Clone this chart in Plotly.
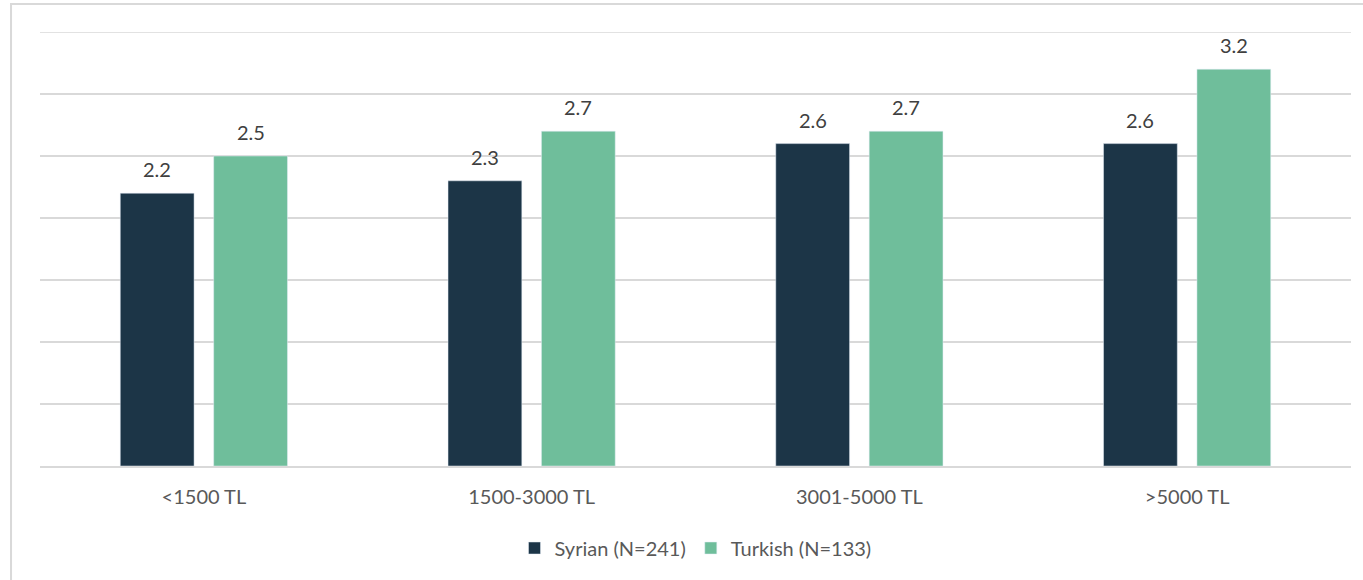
import plotly.graph_objects as go

categories = ["<1500 TL", "1500-3000 TL", "3001-5000 TL", ">5000 TL"]
syrian = [2.2, 2.3, 2.6, 2.6]
turkish = [2.5, 2.7, 2.7, 3.2]
series_names = ["Syrian (N=241)", "Turkish (N=133)"]
colors = ["#1c3547", "#6fbe9b"]
y_max = 3.5

fig = go.Figure()
for name, vals, col in zip(series_names, [syrian, turkish], colors):
    fig.add_trace(go.Bar(x=categories, y=vals, name=name, marker_color=col))

# value labels above bars
for vals, shift in zip([syrian, turkish], [-46.75, 46.75]):
    for c, v in zip(categories, vals):
        fig.add_annotation(x=c, y=v, text=f"{v:.1f}", showarrow=False,
                           xshift=shift, yshift=24, yanchor="middle",
                           font=dict(size=20, color="#404040"))

fig.update_layout(
    width=1363, height=580,
    margin=dict(l=40, r=12, t=32, b=114),
    paper_bgcolor="white", plot_bgcolor="white",
    font=dict(family="Lato, Open Sans, sans-serif", color="#595959", size=19),
    barmode="group", bargap=0.43, bargroupgap=0.21,
    showlegend=True,
    legend=dict(orientation="h", x=0.5, xanchor="center", y=-0.189, yanchor="middle",
                font=dict(size=20, color="#595959"), itemwidth=30),
)
fig.update_yaxes(range=[0, y_max], dtick=0.5, showticklabels=False, gridcolor="#d9d9d9",
                 gridwidth=1.5, zeroline=False, showline=False)
fig.update_xaxes(showline=True, linecolor="#d9d9d9", linewidth=1.5, ticks="outside",
                 ticklen=12, tickcolor="rgba(0,0,0,0)", tickfont=dict(size=20, color="#595959"))
# top gridline at the range edge
fig.add_shape(type="line", xref="paper", yref="y", x0=0, x1=1, y0=y_max, y1=y_max,
              line=dict(color="#d9d9d9", width=1.5), layer="below")
# outer chart frame
fig.add_shape(type="rect", xref="paper", yref="paper",
              x0=-0.0221, x1=1.02, y0=-0.3, y1=1.0645,
              line=dict(color="#d9d9d9", width=2), fillcolor="rgba(0,0,0,0)", layer="below")

fig.write_html("out.html", config={"displayModeBar": False},
               post_script="document.body.style.margin='0';")
